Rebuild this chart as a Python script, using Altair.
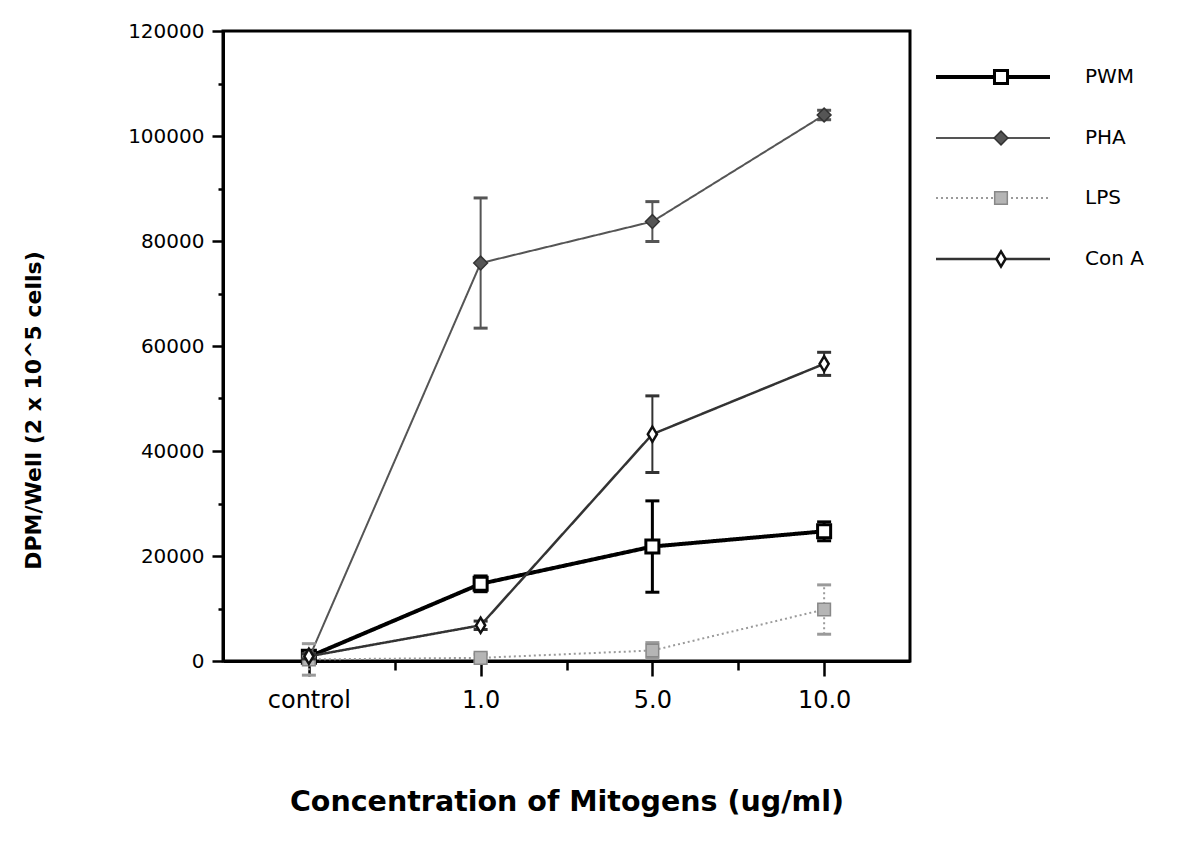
import altair as alt
import pandas as pd

# Mitogen concentrations (x categories) and series
concentrations = ["control", "1.0", "5.0", "10.0"]
series_names = ["PWM", "PHA", "LPS", "Con A"]

# Mean DPM per well and error (+/-) for each mitogen
pwm_mean = [800, 14700, 21800, 24700]
pwm_err = [600, 1500, 8700, 1800]
pha_mean = [500, 75800, 83700, 104000]
pha_err = [400, 12400, 3800, 900]
lps_mean = [300, 600, 2000, 9800]
lps_err = [3000, 700, 1500, 4700]
cona_mean = [900, 6800, 43200, 56600]
cona_err = [500, 800, 7300, 2200]

y_ticks = list(range(0, 120001, 10000))
x_ticks = [0, 0.5, 1, 1.5, 2, 2.5, 3]

means = {"PWM": pwm_mean, "PHA": pha_mean, "LPS": lps_mean, "Con A": cona_mean}
errs = {"PWM": pwm_err, "PHA": pha_err, "LPS": lps_err, "Con A": cona_err}

# Drawing style of each series
styles = {
    "PWM": dict(color="#000000", width=4, dash=[1, 0], shape="square", size=170,
                fill="#ffffff", stroke="#000000", sw=3, legend_y=46),
    "PHA": dict(color="#555555", width=2, dash=[1, 0], shape="diamond", size=190,
                fill="#555555", stroke="#333333", sw=1.5, legend_y=107),
    "LPS": dict(color="#9a9a9a", width=2, dash=[2, 3], shape="square", size=160,
                fill="#b5b5b5", stroke="#888888", sw=1.5, legend_y=167),
    "Con A": dict(color="#333333", width=2.5, dash=[1, 0],
                  shape="M-0.6,0L0,-1L0.6,0L0,1Z", size=230,
                  fill="#ffffff", stroke="#111111", sw=2.5, legend_y=228),
}

label_list = "[" + ",".join("'" + c + "'" for c in concentrations) + "]"

x_axis = alt.Axis(
    values=x_ticks,
    labelExpr=f"datum.value % 1 === 0 ? {label_list}[datum.value] : ''",
    tickSize={"condition": {"test": "datum.value % 1 === 0", "value": 15}, "value": 9},
    tickWidth=2.5, tickColor="black",
    domainColor="black", domainWidth=3,
    labelFont="DejaVu Sans", labelFontSize=24, labelColor="black",
    labelPadding=12, labelFlush=False,
    grid=False,
    titleFont="DejaVu Sans", titleFontSize=28.5, titleFontWeight="bold",
    titleColor="black", titleX=343.5, titleY=140,
    titleAlign="center", titleBaseline="middle",
)

y_axis = alt.Axis(
    values=y_ticks,
    labelExpr="datum.value % 20000 === 0 ? '' + datum.value : ''",
    tickSize={"condition": {"test": "datum.value % 20000 === 0", "value": 11}, "value": 5},
    tickWidth=2.5, tickColor="black",
    domainColor="black", domainWidth=3,
    labelFont="DejaVu Sans", labelFontSize=20, labelColor="black",
    labelPadding=8, labelFlush=False, labelBaseline="middle",
    grid=False,
    titleFont="DejaVu Sans", titleFontSize=22, titleFontWeight="bold",
    titleColor="black", titleX=-190, titleY=379, titleAngle=-90,
    titleAlign="center", titleBaseline="middle",
)

x_enc = alt.X("pos:Q", scale=alt.Scale(domain=[-0.5, 3.5], nice=False, zero=False),
              axis=x_axis, title="Concentration of Mitogens (ug/ml)")
y_enc = alt.Y("mean:Q", scale=alt.Scale(domain=[0, 120000], nice=False, zero=True),
              axis=y_axis, title="DPM/Well (2 x 10^5 cells)")

layers = []
for name in series_names:
    st = styles[name]
    df = pd.DataFrame({
        "series": name,
        "pos": list(range(len(concentrations))),
        "concentration": concentrations,
        "mean": means[name],
        "err": errs[name],
    })
    df["lo"] = df["mean"] - df["err"]
    df["hi"] = df["mean"] + df["err"]
    base = alt.Chart(df)

    line = base.mark_line(color=st["color"], strokeWidth=st["width"],
                          strokeDash=st["dash"]).encode(x=x_enc, y=y_enc)
    bar = base.mark_rule(color=st["color"], strokeWidth=max(2, st["width"] - 1),
                         strokeDash=st["dash"]).encode(
        x=x_enc, y=alt.Y("lo:Q"), y2="hi:Q")
    cap_lo = base.mark_rule(color=st["color"], strokeWidth=3, xOffset=-7,
                            x2Offset=7).encode(x=x_enc, x2="pos:Q", y=alt.Y("lo:Q"))
    cap_hi = base.mark_rule(color=st["color"], strokeWidth=3, xOffset=-7,
                            x2Offset=7).encode(x=x_enc, x2="pos:Q", y=alt.Y("hi:Q"))
    pts = base.mark_point(shape=st["shape"], size=st["size"], fill=st["fill"],
                          stroke=st["stroke"], strokeWidth=st["sw"],
                          opacity=1, fillOpacity=1).encode(x=x_enc, y=y_enc)
    layers += [line, bar, cap_lo, cap_hi, pts]

    # legend entry drawn to the right of the plot
    ldf = pd.DataFrame({"series": [name]})
    lb = alt.Chart(ldf)
    ly = alt.value(st["legend_y"])
    layers.append(lb.mark_rule(color=st["color"], strokeWidth=st["width"],
                               strokeDash=st["dash"]).encode(
        x=alt.value(713), x2=alt.value(827), y=ly))
    layers.append(lb.mark_point(shape=st["shape"], size=st["size"], fill=st["fill"],
                                stroke=st["stroke"], strokeWidth=st["sw"],
                                opacity=1, fillOpacity=1).encode(x=alt.value(778), y=ly))
    layers.append(lb.mark_text(align="left", baseline="middle", font="DejaVu Sans",
                               fontSize=20, color="black").encode(
        x=alt.value(862), y=ly, text="series:N"))

chart = alt.layer(*layers).properties(
    width=687, height=630,
    autosize=alt.AutoSizeParams(type="none"),
    padding={"left": 223, "top": 31, "right": 287, "bottom": 183},
    background="white",
).configure_view(stroke="black", strokeWidth=3)

chart.save("out.html", embed_options={"renderer": "svg", "actions": False})
